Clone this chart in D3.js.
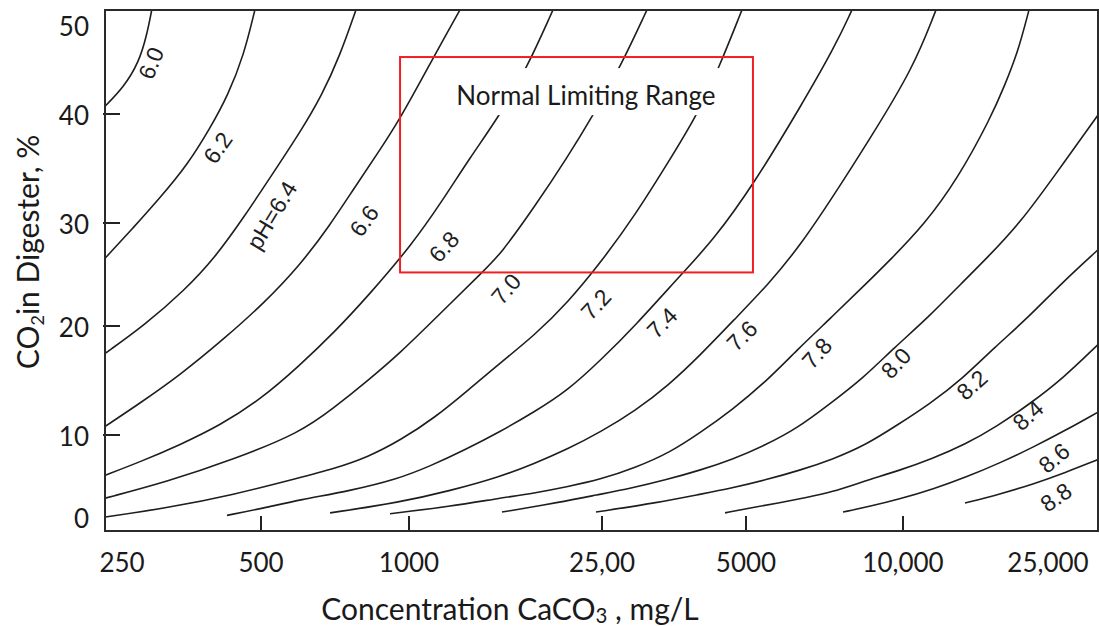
<!DOCTYPE html>
<html>
<head>
<meta charset="utf-8">
<script src="https://cdn.jsdelivr.net/npm/d3@7"></script>
<style>
  body { margin: 0; background: #fff; }
  svg { display: block; }
</style>
</head>
<body>
<svg id="chart" width="1099" height="626"></svg>
<script>
// axis ticks, as printed on the chart
var xTickValues = [250, 500, 1000, 2500, 5000, 10000, 25000];
var xTickLabels = ["250", "500", "1000", "25,00", "5000", "10,000", "25,000"];
var xTickMarks = [500, 1000, 2500, 5000, 10000];
var yTickValues = [0, 10, 20, 30, 40, 50];
var yTickMarks = [10, 20, 30, 40];

// pH contour lines
// alk = concentration CaCO3 (mg/L), co2 = CO2 in digester (%)
var alk60 = [290, 283, 272, 252, 230];
var co2_60 = [51.7, 48.9, 45.8, 43.0, 40.9];
var alk62 = [485, 459, 424, 388, 346, 302, 264, 230];
var co2_62 = [51.7, 46.6, 42.1, 38.7, 35.3, 32.3, 29.5, 26.6];
var alk64 = [780, 724, 665, 600, 526, 462, 397, 342, 280, 230];
var co2_64 = [51.7, 46.6, 42.1, 38.3, 34.4, 30.7, 26.6, 23.5, 20.1, 17.5];
var alk66 = [1274, 1175, 1054, 959, 873, 776, 691, 600, 509, 418, 334, 273, 230];
var co2_66 = [51.7, 48.3, 43.6, 39.6, 36.7, 33.3, 29.8, 25.9, 22.3, 18.9, 15.5, 12.9, 10.8];
var alk68 = [1981, 1751, 1540, 1336, 1170, 1014, 825, 704, 600, 497, 408, 334, 273, 230];
var co2_68 = [51.7, 45.2, 39.9, 36.0, 32.0, 27.9, 22.9, 19.4, 16.4, 13.2, 10.9, 8.8, 6.7, 5.1];
var alk70 = [3104, 2726, 2396, 2127, 1810, 1540, 1428, 1131, 963, 825, 704, 600, 435, 313, 230];
var co2_70 = [51.7, 45.2, 39.9, 36.1, 31.4, 26.9, 25.4, 20.7, 17.6, 15.0, 12.5, 10.2, 7.0, 4.3, 2.3];
var alk72 = [4904, 4390, 3950, 3452, 2930, 2488, 2127, 1810, 1540, 1323, 1131, 963, 825, 704, 600, 435, 313, 230];
var co2_72 = [51.7, 45.2, 39.9, 35.7, 30.7, 26.2, 22.3, 19.1, 16.6, 14.1, 11.6, 9.4, 7.3, 5.9, 4.8, 2.7, 1.1, 0.0];
var alk74 = [7985, 7407, 6374, 5180, 4266, 3692, 2930, 2488, 2127, 1810, 1540, 1305, 1105, 945, 759, 600, 507, 422];
var co2_74 = [51.7, 47.6, 40.9, 33.6, 28.3, 25.2, 20.0, 16.9, 14.1, 12.1, 10.3, 8.2, 6.2, 4.6, 3.2, 2.1, 1.1, 0.2];
var alk76 = [12319, 10652, 8607, 7407, 6374, 5510, 4719, 4007, 3452, 2930, 2488, 2127, 1810, 1540, 1215, 959, 691];
var co2_76 = [51.7, 45.1, 37.6, 32.7, 27.9, 24.0, 20.6, 17.3, 14.6, 12.2, 10.3, 8.3, 6.5, 4.9, 3.2, 1.8, 0.5];
var alk78 = [22174, 20683, 19052, 17438, 14157, 11419, 9442, 8456, 7277, 6263, 5462, 4674, 4007, 3452, 2930, 2488, 2127, 1810, 1540, 1215, 915];
var co2_78 = [51.7, 47.0, 43.3, 39.7, 34.1, 29.8, 26.4, 24.0, 20.8, 17.8, 14.9, 12.3, 10.2, 7.8, 6.0, 4.6, 3.7, 2.9, 2.3, 1.3, 0.4];
var alk80 = [34290, 26133, 21080, 17003, 14518, 11712, 9610, 8381, 7213, 6263, 5462, 4674, 4007, 3386, 2874, 2441, 2048, 1555];
var co2_80 = [39.9, 34.4, 30.1, 26.6, 24.2, 20.8, 18.0, 15.2, 12.8, 10.6, 8.8, 7.0, 5.7, 4.5, 3.5, 2.7, 1.8, 0.6];
var alk82 = [34290, 27314, 22032, 17773, 14611, 11786, 9739, 8493, 7309, 6346, 5437, 4652, 3950, 3305, 2430];
var co2_82 = [27.4, 24.2, 20.8, 18.0, 15.2, 12.8, 10.9, 8.8, 7.0, 5.7, 4.5, 3.5, 2.7, 1.8, 0.6];
var alk84 = [34290, 27486, 22174, 18112, 14890, 12011, 9868, 8456, 7277, 6545, 5759, 5089, 4520];
var co2_84 = [18.3, 15.2, 12.8, 10.8, 8.9, 7.1, 5.7, 4.4, 3.0, 2.4, 1.7, 1.1, 0.5];
var alk86 = [34290, 27835, 22739, 18460, 14984, 12088, 9868, 8645, 7673];
var co2_86 = [12.1, 10.4, 8.5, 6.6, 4.9, 3.4, 2.2, 1.3, 0.6];
var alk88 = [34290, 27835, 22739, 18460, 14797];
var co2_88 = [7.0, 5.4, 4.0, 2.8, 1.7];

// contour labels
var labelText = ["6.0", "6.2", "pH=6.4", "6.6", "6.8", "7.0", "7.2", "7.4", "7.6", "7.8", "8.0", "8.2", "8.4", "8.6", "8.8"];
var labelAlk = [289, 403, 526, 810, 1181, 1585, 2430, 3337, 4904, 6840, 9696, 15466, 22032, 25967, 26298];
var labelCo2 = [45.7, 36.9, 30.7, 30.2, 27.7, 23.6, 22.1, 20.3, 19.1, 17.5, 16.6, 14.6, 11.8, 7.2, 2.4];
var labelAngle = [-68, -55, -59, -54, -47, -50, -47, -45, -45, -48, -47, -42, -42, -40, -35];

// normal limiting range box
var rangeAlk = [959, 5156];
var rangeCo2 = [25.2, 46.4];
var rangeText = "Normal Limiting Range";
var rangeTextAt = [2317, 41.0];

var contours = [
  [alk60, co2_60], [alk62, co2_62], [alk64, co2_64], [alk66, co2_66], [alk68, co2_68],
  [alk70, co2_70], [alk72, co2_72], [alk74, co2_74], [alk76, co2_76], [alk78, co2_78],
  [alk80, co2_80], [alk82, co2_82], [alk84, co2_84], [alk86, co2_86], [alk88, co2_88]
].map(function(c) { return d3.zip(c[0], c[1]); });

var svg = d3.select("#chart");
var plot = { left: 105, top: 10, right: 1098, bottom: 531 };

// the printed axes are not evenly spaced, so both scales are piecewise
var x = d3.scaleLog().domain(xTickValues).range([122, 261, 409, 602, 746, 903, 1048]);
var y = d3.scaleLinear().domain(yTickValues).range([517, 435, 326, 223, 114, 25]);

svg.append("clipPath").attr("id", "plotClip")
  .append("rect")
  .attr("x", plot.left).attr("y", plot.top)
  .attr("width", plot.right - plot.left).attr("height", plot.bottom - plot.top);

// basis spline smooths out the small reading errors
var line = d3.line()
  .x(function(d) { return x(d[0]); })
  .y(function(d) { return y(d[1]); })
  .curve(d3.curveBasis);

var inner = svg.append("g").attr("clip-path", "url(#plotClip)");

inner.selectAll("path.contour")
  .data(contours)
  .join("path")
  .attr("class", "contour")
  .attr("d", line)
  .attr("fill", "none")
  .attr("stroke", "#1e1e1e")
  .attr("stroke-width", 1.6);

// white band behind the range caption (the curves break there)
var gap = inner.append("rect").attr("fill", "#fff");
var caption = inner.append("text")
  .attr("x", x(rangeTextAt[0]))
  .attr("y", y(rangeTextAt[1]))
  .attr("text-anchor", "middle")
  .attr("font-family", "Lato, 'Open Sans', sans-serif")
  .attr("font-size", 26)
  .attr("fill", "#1a1a1a")
  .text(rangeText);
var bb = caption.node().getBBox();
gap.attr("x", bb.x - 6).attr("width", bb.width + 12)
  .attr("y", y(rangeTextAt[1]) - 37).attr("height", 47);

inner.append("rect")
  .attr("x", x(rangeAlk[0]))
  .attr("y", y(rangeCo2[1]))
  .attr("width", x(rangeAlk[1]) - x(rangeAlk[0]))
  .attr("height", y(rangeCo2[0]) - y(rangeCo2[1]))
  .attr("fill", "none")
  .attr("stroke", "#ee2024")
  .attr("stroke-width", 2);

// contour labels
inner.selectAll("text.plabel")
  .data(labelText)
  .join("text")
  .attr("class", "plabel")
  .attr("transform", function(d, i) {
    return "translate(" + x(labelAlk[i]) + "," + y(labelCo2[i]) + ") rotate(" + labelAngle[i] + ")";
  })
  .attr("text-anchor", "middle")
  .attr("dy", "0.35em")
  .attr("font-family", "'Liberation Sans', Arial, sans-serif")
  .attr("font-size", 23)
  .attr("fill", "#1e1e1e")
  .text(function(d) { return d; });

// tick marks point inward
svg.selectAll("line.xtick")
  .data(xTickMarks)
  .join("line")
  .attr("class", "xtick")
  .attr("x1", function(d) { return x(d); }).attr("x2", function(d) { return x(d); })
  .attr("y1", plot.bottom).attr("y2", plot.bottom - 15)
  .attr("stroke", "#222").attr("stroke-width", 2);

svg.selectAll("line.ytick")
  .data(yTickMarks)
  .join("line")
  .attr("class", "ytick")
  .attr("x1", plot.left - 2).attr("x2", plot.left + 15)
  .attr("y1", function(d) { return y(d); }).attr("y2", function(d) { return y(d); })
  .attr("stroke", "#222").attr("stroke-width", 2);

svg.selectAll("text.xlabel")
  .data(xTickValues)
  .join("text")
  .attr("class", "xlabel")
  .attr("x", function(d) { return x(d); })
  .attr("y", 572)
  .attr("text-anchor", "middle")
  .attr("font-family", "Lato, sans-serif")
  .attr("font-size", 26)
  .attr("fill", "#1a1a1a")
  .text(function(d, i) { return xTickLabels[i]; });

svg.selectAll("text.ylabel")
  .data(yTickValues)
  .join("text")
  .attr("class", "ylabel")
  .attr("x", 89)
  .attr("y", function(d) { return y(d) + 2; })
  .attr("dy", "0.35em")
  .attr("text-anchor", "end")
  .attr("font-family", "Lato, sans-serif")
  .attr("font-size", 26)
  .attr("fill", "#1a1a1a")
  .text(function(d) { return d; });

// axis titles
var xTitle = svg.append("text")
  .attr("x", 510).attr("y", 620)
  .attr("text-anchor", "middle")
  .attr("font-family", "Lato, sans-serif")
  .attr("font-size", 30)
  .attr("fill", "#1a1a1a");
xTitle.append("tspan").text("Concentration CaCO");
xTitle.append("tspan").attr("font-size", "68%").attr("dy", 3).text("3");
xTitle.append("tspan").attr("dy", -3).text(" , mg/L");

var yTitle = svg.append("text")
  .attr("transform", "translate(39,252) rotate(-90)")
  .attr("text-anchor", "middle")
  .attr("font-family", "Lato, sans-serif")
  .attr("font-size", 30)
  .attr("fill", "#1a1a1a");
yTitle.append("tspan").text("CO");
yTitle.append("tspan").attr("font-size", "60%").attr("dy", 5).text("2");
yTitle.append("tspan").attr("dy", -5).text("in Digester, %");

// frame
svg.append("rect")
  .attr("x", plot.left).attr("y", plot.top)
  .attr("width", plot.right - plot.left).attr("height", plot.bottom - plot.top)
  .attr("fill", "none")
  .attr("stroke", "#2a2a2a")
  .attr("stroke-width", 2);
</script>
</body>
</html>
